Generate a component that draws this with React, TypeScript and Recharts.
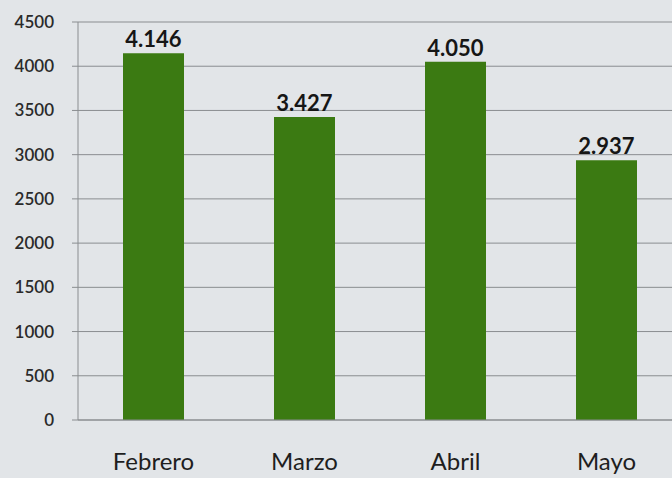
import { BarChart, Bar, XAxis, YAxis, CartesianGrid, LabelList } from 'recharts';

const months = ['Febrero', 'Marzo', 'Abril', 'Mayo'];
const totals = [4146, 3427, 4050, 2937];
const yTicks = [0, 500, 1000, 1500, 2000, 2500, 3000, 3500, 4000, 4500];

const data = months.map((month, i) => ({ month, total: totals[i] }));

// 4146 -> "4.146"
const formatThousands = (v: number) => String(v).replace(/\B(?=(\d{3})+(?!\d))/g, '.');

export default function App() {
  return (
    <div
      style={{
        position: 'fixed',
        top: 0,
        left: 0,
        width: 672,
        height: 478,
        overflow: 'hidden',
        background: '#e2e5e8',
        fontFamily: 'Lato, sans-serif',
      }}
    >
      <BarChart width={682} height={478} data={data} margin={{ top: 22, right: 0, left: 0, bottom: 0 }}>
        <CartesianGrid vertical={false} stroke="#8a8d90" />
        <XAxis
          dataKey="month"
          height={58}
          stroke="#8a8d90"
          tickLine={false}
          tickMargin={27}
          tick={{ fill: '#1e1e1e', fontSize: 24 }}
        />
        <YAxis
          width={78}
          domain={[0, 4500]}
          ticks={yTicks}
          stroke="#8a8d90"
          tickSize={6}
          tickMargin={18}
          tick={{ fill: '#2a2a2a', fontSize: 17, fontWeight: 600 }}
        />
        <Bar dataKey="total" fill="#3b7a12" barSize={61} isAnimationActive={false}>
          <LabelList
            dataKey="total"
            position="top"
            offset={6}
            formatter={(v: number) => formatThousands(v)}
            style={{ fill: '#161616', fontSize: 22, fontWeight: 700 }}
          />
        </Bar>
      </BarChart>
    </div>
  );
}
